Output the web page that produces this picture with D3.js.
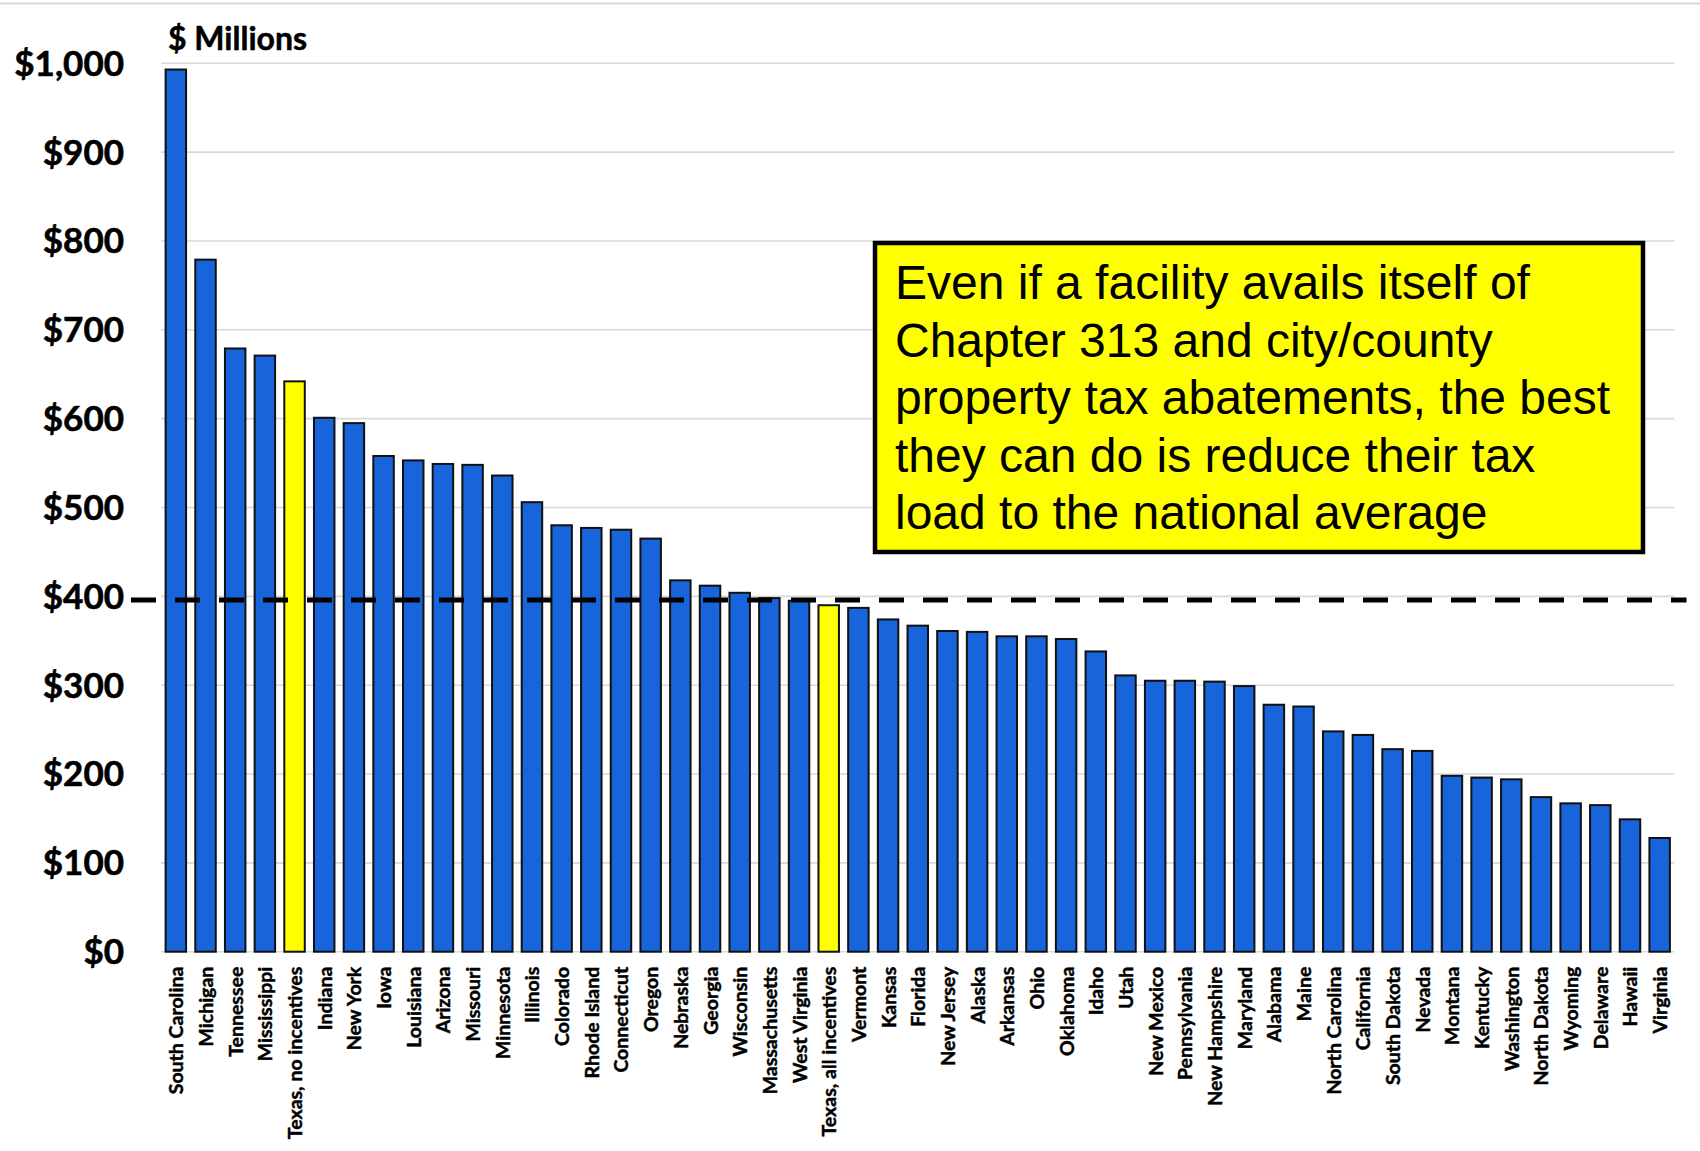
<!DOCTYPE html>
<html>
<head>
<meta charset="utf-8">
<script src="https://cdn.jsdelivr.net/npm/d3@7"></script>
<style>
  html, body { margin: 0; padding: 0; background: #fff; }
  svg { display: block; }
</style>
</head>
<body>
<svg id="chart" width="1700" height="1151"></svg>
<script>
// Projected tax load by state, $ millions, sorted high to low
const states = [
  "South Carolina", "Michigan", "Tennessee", "Mississippi", "Texas, no incentives",
  "Indiana", "New York", "Iowa", "Louisiana", "Arizona",
  "Missouri", "Minnesota", "Illinois", "Colorado", "Rhode Island",
  "Connecticut", "Oregon", "Nebraska", "Georgia", "Wisconsin",
  "Massachusetts", "West Virginia", "Texas, all incentives", "Vermont", "Kansas",
  "Florida", "New Jersey", "Alaska", "Arkansas", "Ohio",
  "Oklahoma", "Idaho", "Utah", "New Mexico", "Pennsylvania",
  "New Hampshire", "Maryland", "Alabama", "Maine", "North Carolina",
  "California", "South Dakota", "Nevada", "Montana", "Kentucky",
  "Washington", "North Dakota", "Wyoming", "Delaware", "Hawaii",
  "Virginia"
];
const taxLoad = [
  993, 779, 679, 671, 642,
  601, 595, 558, 553, 549,
  548, 536, 506, 480, 477,
  475, 465, 418, 412, 404,
  398, 395, 390, 387, 374,
  367, 361, 360, 355, 355,
  352, 338, 311, 305, 305,
  304, 299, 278, 276, 248,
  244, 228, 226, 198, 196,
  194, 174, 167, 165, 149,
  128
];
const highlighted = ["Texas, no incentives", "Texas, all incentives"];
const nationalAverage = 396;
const yTicks = [0, 100, 200, 300, 400, 500, 600, 700, 800, 900, 1000];
const unitLabel = "$ Millions";
const noteLines = [
  "Even if a facility avails itself of",
  "Chapter 313 and city/county",
  "property tax abatements, the best",
  "they can do is reduce their tax",
  "load to the national average"
];

const data = states.map((s, i) => ({ state: s, value: taxLoad[i] }));

const svg = d3.select("#chart");
const labelFont = "Lato, 'Open Sans', sans-serif";

const x = d3.scaleBand()
  .domain(states)
  .range([161, 1674.5])
  .paddingInner(0.31)
  .paddingOuter(0.155);

const y = d3.scaleLinear()
  .domain([0, 1000])
  .range([951.7, 63.3]);

// thin frame line along the top
svg.append("line")
  .attr("x1", 0).attr("x2", 1700)
  .attr("y1", 3.5).attr("y2", 3.5)
  .attr("stroke", "#d9d9d9").attr("stroke-width", 2);

// horizontal gridlines
svg.append("g")
  .selectAll("line")
  .data(yTicks)
  .join("line")
  .attr("x1", x.range()[0])
  .attr("x2", x.range()[1])
  .attr("y1", d => y(d))
  .attr("y2", d => y(d))
  .attr("stroke", "#d9d9d9")
  .attr("stroke-width", 1.6);

// y-axis tick labels
const yAxis = d3.axisLeft(y)
  .tickValues(yTicks)
  .tickSize(0)
  .tickPadding(0)
  .tickFormat(d => "$" + d3.format(",")(d));

svg.append("g")
  .attr("transform", "translate(124,0)")
  .call(yAxis)
  .call(g => g.select(".domain").remove())
  .selectAll("text")
  .attr("font-family", labelFont)
  .attr("font-weight", 700)
  .attr("font-size", 35)
  .attr("fill", "#000")
  .attr("stroke", "#000")
  .attr("stroke-width", 0.6)
  .attr("dy", "0.34em");

// units label
svg.append("text")
  .attr("x", 168)
  .attr("y", 50)
  .attr("font-family", labelFont)
  .attr("font-weight", 700)
  .attr("font-size", 32)
  .attr("fill", "#000")
  .attr("stroke", "#000")
  .attr("stroke-width", 0.5)
  .text(unitLabel);

// bars
svg.append("g")
  .selectAll("rect")
  .data(data)
  .join("rect")
  .attr("x", d => x(d.state))
  .attr("width", x.bandwidth())
  .attr("y", d => y(d.value))
  .attr("height", d => y(0) - y(d.value))
  .attr("fill", d => highlighted.includes(d.state) ? "#ffff00" : "#1864da")
  .attr("stroke", "#111")
  .attr("stroke-width", 2);

// category labels, rotated
const xAxis = d3.axisBottom(x).tickSize(0).tickPadding(0);
svg.append("g")
  .attr("transform", `translate(0,${y(0)})`)
  .call(xAxis)
  .call(g => g.select(".domain").remove())
  .selectAll("text")
  .attr("font-family", labelFont)
  .attr("font-weight", 700)
  .attr("font-size", 19.5)
  .attr("fill", "#000")
  .attr("stroke", "#000")
  .attr("stroke-width", 0.45)
  .attr("text-anchor", "end")
  .attr("dy", null)
  .attr("y", 0)
  .attr("transform", "translate(0,15) rotate(-90)")
  .attr("dominant-baseline", "central");

// national average, dashed
svg.append("line")
  .attr("x1", x.range()[0] - 30)
  .attr("x2", x.range()[1] + 12)
  .attr("y1", y(nationalAverage))
  .attr("y2", y(nationalAverage))
  .attr("stroke", "#000")
  .attr("stroke-width", 5)
  .attr("stroke-dasharray", "25 19");

// callout box
const note = svg.append("g");
note.append("rect")
  .attr("x", 875)
  .attr("y", 243)
  .attr("width", 768)
  .attr("height", 309)
  .attr("fill", "#ffff00")
  .attr("stroke", "#000")
  .attr("stroke-width", 4.5);

note.append("g")
  .selectAll("text")
  .data(noteLines)
  .join("text")
  .attr("x", 895)
  .attr("y", (d, i) => 299 + i * 57.5)
  .attr("font-family", "'Liberation Sans', Arial, sans-serif")
  .attr("font-size", 48)
  .attr("fill", "#000")
  .text(d => d);
</script>
</body>
</html>
